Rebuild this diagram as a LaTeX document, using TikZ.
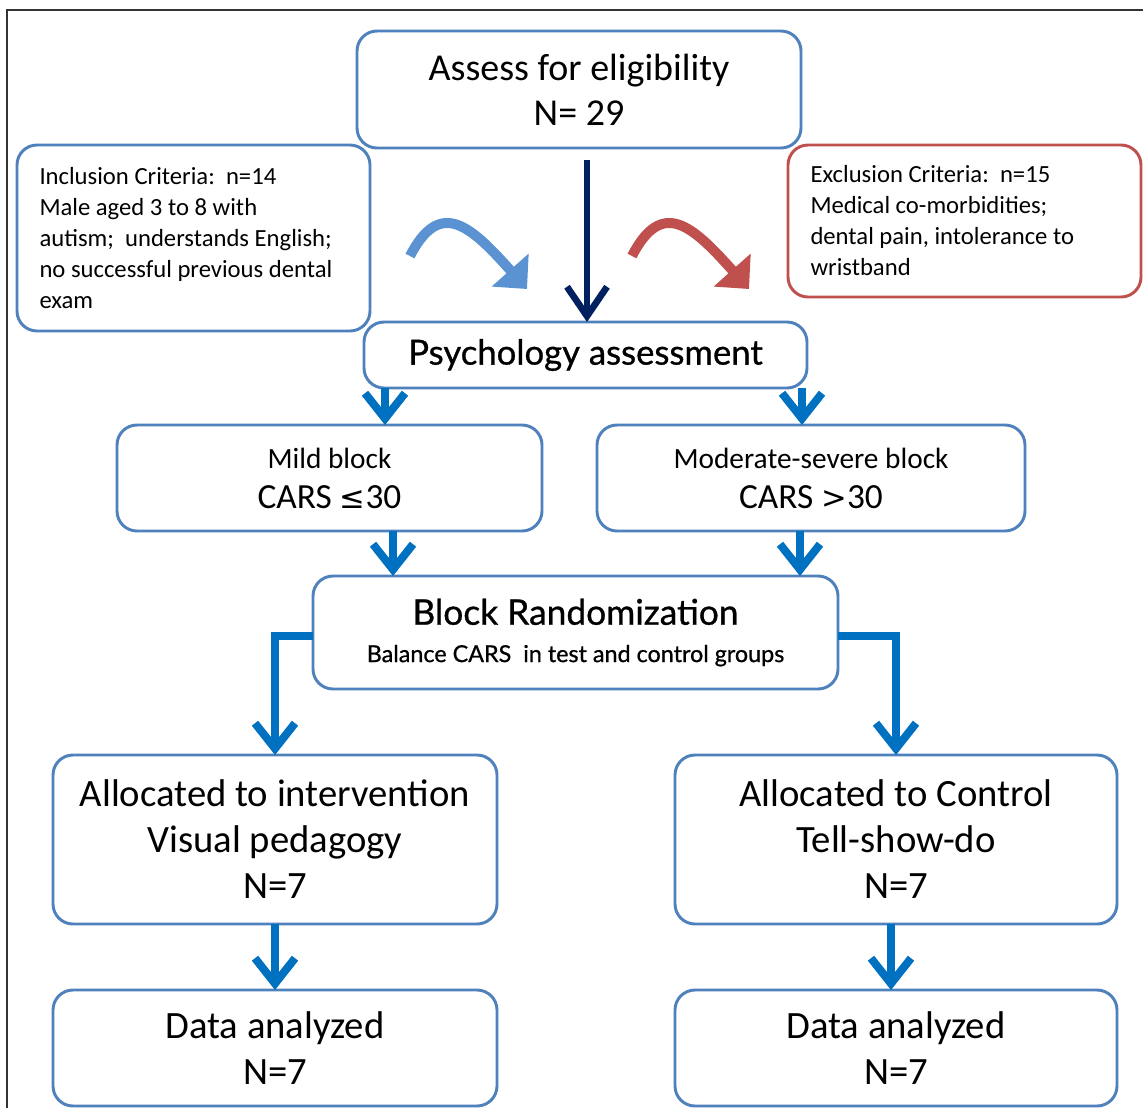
\documentclass[tikz,border=0pt]{standalone}
\usepackage{fontspec}
\setmainfont{Carlito}
\newfontfamily\gillfont[FakeBold=0.8]{Lato}
\newfontfamily\symfont{DejaVu Sans}
\usetikzlibrary{arrows.meta}
\definecolor{boxblue}{HTML}{4F81BD}
\definecolor{boxred}{HTML}{C0504D}
\definecolor{arrblue}{HTML}{0070C0}
\definecolor{navy}{HTML}{002060}
\definecolor{curveblue}{HTML}{5A92D2}
\definecolor{curvered}{HTML}{C0504D}
\begin{document}
\begin{tikzpicture}[x=0.75pt,y=-0.75pt,
  box/.style={draw=boxblue, line width=2.2pt, rounded corners=15pt, fill=white,
    inner sep=0pt, outer sep=0pt, align=center, text=black},
  redbox/.style={box, draw=boxred},
  arr/.style={draw=arrblue, line width=6pt, -{Straight Barb[length=19pt,width=30pt]}},
  navyarr/.style={draw=navy, line width=5pt, -{Straight Barb[length=22pt,width=30pt]}},
  curvarr/.style={line width=7.5pt, -{Triangle[length=19pt,width=36pt]}}
]
\useasboundingbox (0,0) rectangle (1143,1108);
\fill[white] (0,0) rectangle (1143,1108);
\draw[draw=black!80, line width=1.5pt] (7,1108) -- (7,10) -- (1143,10);

% nodes
\node[box, minimum width=333pt, minimum height=87.75pt,
  font=\fontsize{28.5}{34}\selectfont] (assess) at (579,89.5)
  {Assess for eligibility\\N= 29};
\node[box, minimum width=264.75pt, minimum height=139.5pt] (incl) at (193.5,238)
  {\begin{minipage}{231pt}\fontsize{18.5}{23.25}\selectfont
   Inclusion Criteria:\ \ n=14\\
   Male aged 3 to 8 with\\
   autism;\ \ understands English;\\
   no successful previous dental\\
   exam\end{minipage}};
\node[redbox, minimum width=264.75pt, minimum height=114pt] (excl) at (964.5,221)
  {\begin{minipage}{231pt}\fontsize{18.5}{23.25}\selectfont
   Exclusion Criteria:\ \ n=15\\
   Medical co-morbidities;\\
   dental pain, intolerance to\\
   wristband\end{minipage}};
\node[box, minimum width=332.25pt, minimum height=49.5pt,
  font=\gillfont\fontsize{26}{30}\selectfont] (psy) at (585.5,355)
  {Psychology assessment};
\node[box, minimum width=318.75pt, minimum height=79.5pt,
  font=\fontsize{22}{30}\selectfont] (mild) at (329.5,478)
  {Mild block\\
   {\fontsize{26.5}{30}\selectfont CARS {\symfont\fontsize{23}{30}\selectfont ≤}30}};
\node[box, minimum width=321pt, minimum height=79.5pt,
  font=\fontsize{22}{30}\selectfont] (mod) at (811,478)
  {Moderate-severe block\\
   {\fontsize{26.5}{30}\selectfont CARS {\symfont\fontsize{23}{30}\selectfont >}30}};
\node[box, minimum width=393.75pt, minimum height=84.75pt,
  font=\gillfont\fontsize{26.5}{31}\selectfont] (br) at (575.5,632.5)
  {\raisebox{-3pt}{Block Randomization}\\
   {\fontsize{17.5}{31}\selectfont Balance CARS\ \ in test and control groups}};
\node[box, minimum width=333pt, minimum height=126.75pt,
  font=\fontsize{29}{34.5}\selectfont] (int) at (275,839.5)
  {Allocated to intervention\\Visual pedagogy\\N=7};
\node[box, minimum width=331.5pt, minimum height=126.75pt,
  font=\fontsize{29}{34.5}\selectfont] (ctl) at (896,839.5)
  {Allocated to Control\\Tell-show-do\\N=7};
\node[box, minimum width=333pt, minimum height=87pt,
  font=\fontsize{29}{34}\selectfont] (dl) at (275,1048)
  {Data analyzed\\N=7};
\node[box, minimum width=331.5pt, minimum height=87pt,
  font=\fontsize{29}{34}\selectfont] (dr) at (896,1048)
  {Data analyzed\\N=7};

% connectors
\coordinate (navystart) at (587,160);
\draw[navyarr] (navystart) -- (navystart |- psy.north);
\draw[arr] (psy.south -| 385,0) -- (mild.north -| 385,0);
\draw[arr] (psy.south -| 802,0) -- (mod.north -| 802,0);
\draw[arr] (mild.south -| 393,0) -- (br.north -| 393,0);
\draw[arr] (mod.south -| 800,0) -- (br.north -| 800,0);
\draw[arr] (br.west |- 0,636) -| (int.north);
\draw[arr] (br.east |- 0,636) -| (ctl.north);
\draw[arr] (int.south) -- (dl.north);
\draw[arr] (ctl.south -| 891,0) -- (dr.north -| 891,0);

% curved decorative arrows
\draw[curvarr, draw=curveblue] (410,256) .. controls (440,198) and (470,225) .. (527,289);
\draw[curvarr, draw=curvered] (632,256) .. controls (662,198) and (692,225) .. (749,289);
\end{tikzpicture}
\end{document}
